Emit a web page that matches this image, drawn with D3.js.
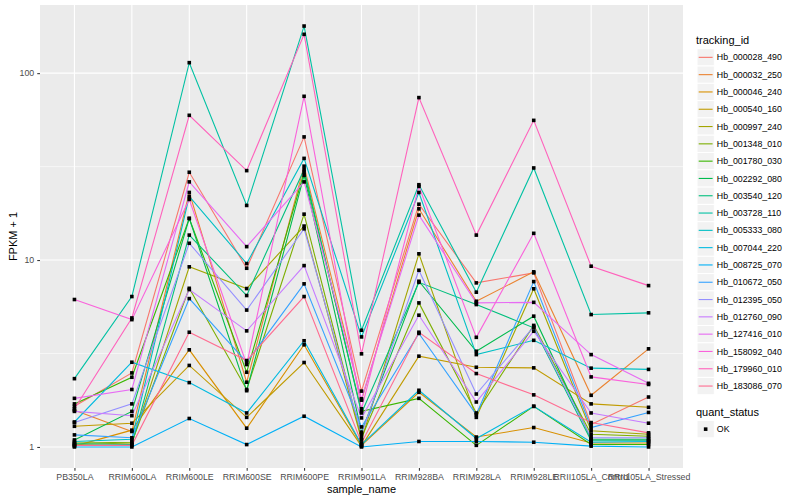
<!DOCTYPE html>
<html>
<head>
<meta charset="utf-8">
<script src="https://cdn.jsdelivr.net/npm/d3@7"></script>
<style>
  body { margin: 0; background: #fff; }
  text { font-family: "Liberation Sans", Arial, sans-serif; }
</style>
</head>
<body>
<script>
// chart data
var samples = ["PB350LA", "RRIM600LA", "RRIM600LE", "RRIM600SE", "RRIM600PE", "RRIM901LA",
  "RRIM928BA", "RRIM928LA", "RRIM928LE", "RRII105LA_Control", "RRII105LA_Stressed"];

var trackingIds = ["Hb_000028_490", "Hb_000032_250", "Hb_000046_240", "Hb_000540_160", "Hb_000997_240",
  "Hb_001348_010", "Hb_001780_030", "Hb_002292_080", "Hb_003540_120", "Hb_003728_110",
  "Hb_005333_080", "Hb_007044_220", "Hb_008725_070", "Hb_010672_050", "Hb_012395_050",
  "Hb_012760_090", "Hb_127416_010", "Hb_158092_040", "Hb_179960_010", "Hb_183086_070"];

// FPKM + 1, one row per tracking id, one value per sample
var fpkm = [
  [1.65, 2.49, 29.5, 9.04, 45.6, 1.99, 19.9, 7.55, 8.54, 1.32, 1.85],
  [1.57, 1.21, 23.0, 2.22, 31.8, 1.78, 18.8, 6.02, 8.65, 1.89, 3.35],
  [1.01, 1.23, 3.31, 1.26, 3.52, 1.02, 1.96, 1.13, 1.27, 1.05, 1.05],
  [1.29, 1.34, 2.73, 1.44, 2.83, 1.01, 3.06, 2.67, 2.65, 1.70, 1.63],
  [1.03, 1.05, 9.2, 7.04, 15.2, 1.09, 10.8, 1.44, 7.02, 1.22, 1.17],
  [1.05, 1.06, 7.06, 2.03, 17.6, 1.12, 5.9, 1.52, 4.47, 1.17, 1.14],
  [1.70, 2.36, 16.7, 2.51, 29.5, 1.55, 1.82, 1.02, 1.65, 1.03, 1.03],
  [1.09, 1.55, 16.7, 2.0, 28.4, 1.2, 7.7, 3.25, 5.01, 1.10, 1.10],
  [1.04, 1.03, 13.6, 6.46, 30.5, 1.52, 7.6, 5.78, 4.34, 1.08, 1.08],
  [2.32, 6.38, 113.8, 19.6, 178.7, 4.21, 25.3, 6.73, 31.1, 5.11, 5.22],
  [1.07, 1.10, 21.9, 9.58, 35.0, 3.88, 23.0, 3.12, 3.72, 2.64, 2.60],
  [1.36, 2.84, 2.21, 1.52, 3.7, 1.03, 2.01, 1.11, 1.65, 1.06, 1.07],
  [1.0, 1.0, 1.42, 1.03, 1.46, 1.0, 1.07, 1.07, 1.06, 1.01, 1.0],
  [1.16, 1.12, 6.22, 2.84, 7.46, 1.28, 4.05, 1.49, 7.67, 1.27, 1.53],
  [1.35, 1.70, 12.3, 5.4, 14.7, 1.17, 8.82, 1.92, 4.4, 1.12, 1.12],
  [1.55, 1.47, 6.95, 4.18, 9.34, 1.43, 5.07, 1.74, 4.16, 1.52, 1.34],
  [1.82, 2.03, 26.2, 11.8, 26.2, 1.81, 17.4, 5.9, 5.94, 3.12, 2.19],
  [6.15, 4.80, 21.1, 2.76, 75.2, 1.6, 24.8, 3.86, 13.9, 2.37, 2.16],
  [1.60, 4.90, 59.5, 30.1, 161.4, 3.15, 74, 13.6, 55.9, 9.27, 7.3],
  [1.02, 1.02, 4.11, 2.9, 6.38, 1.05, 4.11, 2.47, 1.9, 1.35, 1.19]
];

var yBreaks = [1, 10, 100];
var yMinor = [Math.sqrt(10), Math.sqrt(1000)];
var quantStatus = ["OK"];

var width = 800, height = 500;
var panel = {left: 40, right: 683, top: 5, bottom: 468};

// ggplot hue palette for 20 levels
var colors = ["#F8766D", "#EA8331", "#D89000", "#C09B00", "#A3A500", "#7CAE00", "#39B600", "#00BB4E",
  "#00BF7D", "#00C1A3", "#00BFC4", "#00BAE0", "#00B0F6", "#35A2FF", "#9590FF", "#C77CFF",
  "#E76BF3", "#FA62DB", "#FF62BC", "#FF6C91"];
var color = d3.scaleOrdinal().domain(trackingIds).range(colors);

var svg = d3.select("body").append("svg")
    .attr("width", width)
    .attr("height", height);

var x = d3.scalePoint()
    .domain(samples)
    .range([panel.left, panel.right])
    .padding(0.6);

// log scale, 5% expansion like ggplot
var allVals = d3.merge(fpkm);
var lo = Math.log10(d3.min(allVals)), hi = Math.log10(d3.max(allVals));
var pad = (hi - lo) * 0.05;
var y = d3.scaleLog()
    .domain([Math.pow(10, lo - pad), Math.pow(10, hi + pad)])
    .range([panel.bottom, panel.top]);

// panel background and grid
svg.append("rect")
    .attr("x", panel.left).attr("y", panel.top)
    .attr("width", panel.right - panel.left)
    .attr("height", panel.bottom - panel.top)
    .attr("fill", "#EBEBEB");

var grid = svg.append("g");
grid.selectAll(".minor").data(yMinor).enter().append("line")
    .attr("x1", panel.left).attr("x2", panel.right)
    .attr("y1", d => y(d)).attr("y2", d => y(d))
    .attr("stroke", "#fff").attr("stroke-width", 0.55);
grid.selectAll(".major").data(yBreaks).enter().append("line")
    .attr("x1", panel.left).attr("x2", panel.right)
    .attr("y1", d => y(d)).attr("y2", d => y(d))
    .attr("stroke", "#fff").attr("stroke-width", 1.1);
grid.selectAll(".vx").data(samples).enter().append("line")
    .attr("x1", d => x(d)).attr("x2", d => x(d))
    .attr("y1", panel.top).attr("y2", panel.bottom)
    .attr("stroke", "#fff").attr("stroke-width", 1.1);

// lines
var line = d3.line()
    .x((d, i) => x(samples[i]))
    .y(d => y(d));

svg.append("g").selectAll("path")
    .data(fpkm)
    .enter().append("path")
    .attr("d", d => line(d))
    .attr("fill", "none")
    .attr("stroke", (d, i) => color(trackingIds[i]))
    .attr("stroke-width", 1.1);

// points
var pts = [];
fpkm.forEach(function (row, i) {
  row.forEach(function (v, j) { pts.push({s: samples[j], v: v}); });
});
svg.append("g").selectAll("rect")
    .data(pts)
    .enter().append("rect")
    .attr("x", d => x(d.s) - 1.8)
    .attr("y", d => y(d.v) - 1.8)
    .attr("width", 3.6).attr("height", 3.6)
    .attr("fill", "#000");

// axes
var xAxis = d3.axisBottom(x).tickSize(2.75).tickPadding(3);
var gx = svg.append("g")
    .attr("transform", "translate(0," + panel.bottom + ")")
    .call(xAxis);
var yAxis = d3.axisLeft(y).tickValues(yBreaks).tickFormat(d3.format("d")).tickSize(2.75).tickPadding(3);
var gy = svg.append("g")
    .attr("transform", "translate(" + panel.left + ",0)")
    .call(yAxis);
[gx, gy].forEach(function (g) {
  g.select(".domain").remove();
  g.selectAll(".tick line").attr("stroke", "#333333").attr("stroke-width", 1.05);
  g.selectAll(".tick text").attr("fill", "#4D4D4D")
      .style("font-size", "8.8px")
      .style("font-family", "Liberation Sans, Arial, sans-serif");
});

svg.append("text")
    .attr("x", (panel.left + panel.right) / 2)
    .attr("y", 493)
    .attr("text-anchor", "middle")
    .style("font-size", "11px")
    .text("sample_name");

svg.append("text")
    .attr("transform", "translate(17," + ((panel.top + panel.bottom) / 2) + ") rotate(-90)")
    .attr("text-anchor", "middle")
    .style("font-size", "11px")
    .text("FPKM + 1");

// legend: tracking_id
var legX = 697, legY = 48.7, keySize = 17.3;
svg.append("text")
    .attr("x", legX - 1).attr("y", 44)
    .style("font-size", "11px")
    .text("tracking_id");

var keys = svg.append("g").selectAll("g")
    .data(trackingIds)
    .enter().append("g")
    .attr("transform", (d, i) => "translate(" + legX + "," + (legY + i * keySize) + ")");
keys.append("rect")
    .attr("width", keySize).attr("height", keySize)
    .attr("fill", "#F2F2F2").attr("stroke", "#fff").attr("stroke-width", 1);
keys.append("line")
    .attr("x1", 1.7).attr("x2", keySize - 1.7)
    .attr("y1", keySize / 2).attr("y2", keySize / 2)
    .attr("stroke", d => color(d)).attr("stroke-width", 1.1);
keys.append("text")
    .attr("x", keySize + 2.5).attr("y", keySize / 2 + 3.1)
    .style("font-size", "8.8px")
    .text(d => d);

// legend: quant_status
svg.append("text")
    .attr("x", legX - 1).attr("y", 416)
    .style("font-size", "11px")
    .text("quant_status");
var qk = svg.append("g").selectAll("g")
    .data(quantStatus)
    .enter().append("g")
    .attr("transform", "translate(" + legX + ",420.5)");
qk.append("rect")
    .attr("width", keySize).attr("height", keySize)
    .attr("fill", "#F2F2F2").attr("stroke", "#fff");
qk.append("rect")
    .attr("x", keySize / 2 - 1.8).attr("y", keySize / 2 - 1.8)
    .attr("width", 3.6).attr("height", 3.6)
    .attr("fill", "#000");
qk.append("text")
    .attr("x", keySize + 2.5).attr("y", keySize / 2 + 3.1)
    .style("font-size", "8.8px")
    .text(d => d);
</script>
</body>
</html>
